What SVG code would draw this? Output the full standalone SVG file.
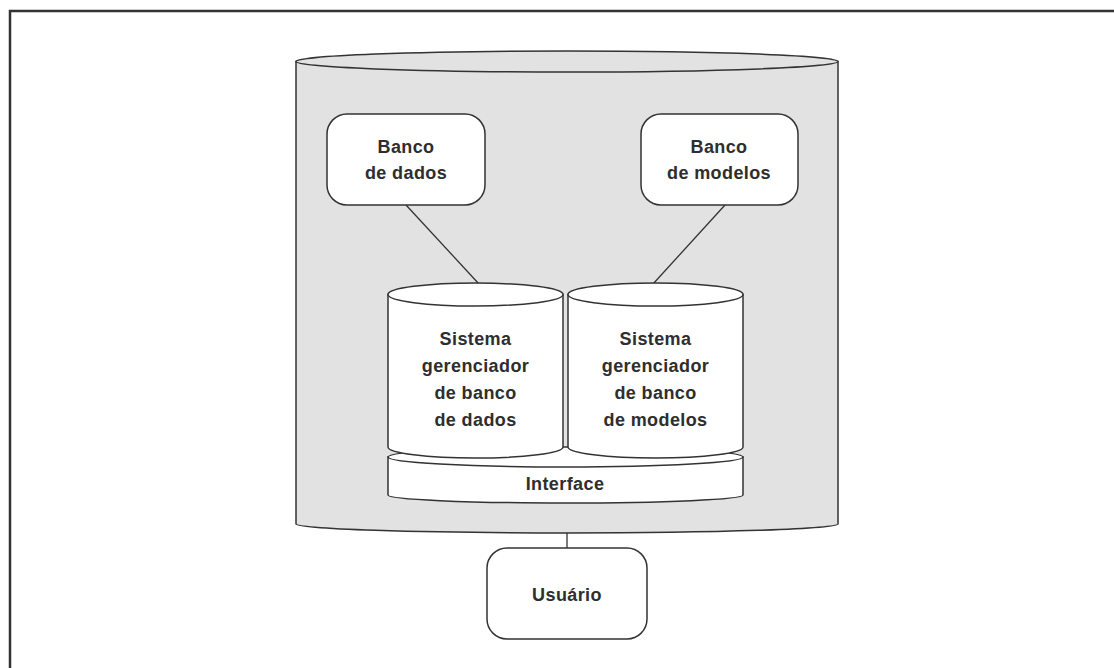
<svg xmlns="http://www.w3.org/2000/svg" width="1114" height="668" viewBox="0 0 1114 668">
  <style>
    .shape { stroke: #333; stroke-width: 1.5; }
    .box { fill: #fff; stroke: #333; stroke-width: 1.5; }
    .lbl { font-family: "Liberation Sans", Arial, sans-serif; font-weight: bold; font-size: 18px; fill: #2e2e2e; text-anchor: middle; letter-spacing: 0.4px; }
    .wire { stroke: #333; stroke-width: 1.3; fill: none; }
  </style>

  <rect width="1114" height="668" fill="#fff"/>

  <!-- outer frame, runs past the right and bottom edges -->
  <rect x="10" y="11" width="1130" height="700" fill="none" stroke="#333" stroke-width="2.5"/>

  <!-- large cylinder: the decision support system -->
  <g id="sistema">
    <path class="shape" fill="#e2e2e2" d="M296,61.5 L296,524 A271,9 0 0 0 838,524 L838,61.5 Z"/>
    <ellipse class="shape" fill="#e2e2e2" cx="567" cy="61.5" rx="271" ry="10.5"/>
  </g>

  <g id="connectors">
    <line class="wire" x1="406" y1="205" x2="479" y2="284"/>
    <line class="wire" x1="725" y1="205" x2="653" y2="284"/>
    <line class="wire" x1="567" y1="533" x2="567" y2="548"/>
  </g>

  <g id="banco-dados">
    <rect class="box" x="327" y="114" width="158" height="91" rx="20"/>
    <text class="lbl" x="406" y="153">Banco</text>
    <text class="lbl" x="406" y="179">de dados</text>
  </g>

  <g id="banco-modelos">
    <rect class="box" x="641" y="114" width="157" height="91" rx="20"/>
    <text class="lbl" x="719" y="153">Banco</text>
    <text class="lbl" x="719" y="179">de modelos</text>
  </g>

  <!-- interface band (drawn first so the cylinders sit on it) -->
  <g id="interface">
    <path class="box" d="M388,457 L388,495 A177.5,8 0 0 0 743,495 L743,457 Z"/>
    <ellipse class="box" cx="565.5" cy="457" rx="177.5" ry="10"/>
    <text class="lbl" x="565" y="490">Interface</text>
  </g>

  <g id="sgbd">
    <path class="box" d="M388,294.5 L388,447 A87.5,11 0 0 0 563,447 L563,294.5 Z"/>
    <ellipse class="box" cx="475.5" cy="294.5" rx="87.5" ry="11.5"/>
    <text class="lbl" x="475.5" y="345">Sistema</text>
    <text class="lbl" x="475.5" y="372">gerenciador</text>
    <text class="lbl" x="475.5" y="399">de banco</text>
    <text class="lbl" x="475.5" y="426">de dados</text>
  </g>

  <g id="sgbm">
    <path class="box" d="M568,294.5 L568,447 A87.5,11 0 0 0 743,447 L743,294.5 Z"/>
    <ellipse class="box" cx="655.5" cy="294.5" rx="87.5" ry="11.5"/>
    <text class="lbl" x="655.5" y="345">Sistema</text>
    <text class="lbl" x="655.5" y="372">gerenciador</text>
    <text class="lbl" x="655.5" y="399">de banco</text>
    <text class="lbl" x="655.5" y="426">de modelos</text>
  </g>

  <g id="usuario">
    <rect class="box" x="487" y="548" width="160" height="91" rx="20"/>
    <text class="lbl" x="567" y="601">Usuário</text>
  </g>
</svg>
